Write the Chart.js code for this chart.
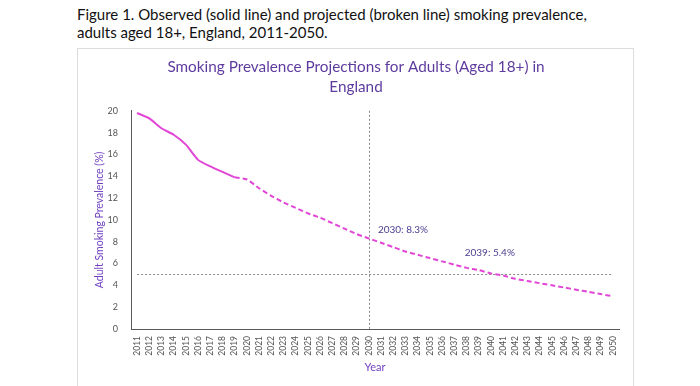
<!DOCTYPE html>
<html>
<head>
<meta charset="utf-8">
<script src="https://cdn.jsdelivr.net/npm/chart.js@4"></script>
<style>
    body { margin: 0; width: 700px; height: 386px; background: #fff; position: relative; overflow: hidden; font-family: Lato, "Open Sans", sans-serif; }
    #cap { position: absolute; left: 77px; top: 5px; font-size: 15px; line-height: 18px; color: #111; }
    #caixa { position: absolute; left: 77px; top: 48px; width: 555px; height: 345px; border: 1px solid #dcdcdc; }
    #grafFum { position: absolute; left: 78px; top: 48px; }
</style>
</head>
<body>
<div id="cap">Figure 1. Observed (solid line) and projected (broken line) smoking prevalence,<br>adults aged 18+, England, 2011-2050.</div>
<div id="caixa"></div>
<canvas id="grafFum" width="556" height="338"></canvas>
<script>
const anos = ['2011','2012','2013','2014','2015','2016','2017','2018','2019','2020',
    '2021','2022','2023','2024','2025','2026','2027','2028','2029','2030',
    '2031','2032','2033','2034','2035','2036','2037','2038','2039','2040',
    '2041','2042','2043','2044','2045','2046','2047','2048','2049','2050'];
// observado 2011-2019
const observado = [19.8, 19.3, 18.4, 17.8, 16.9, 15.5, 14.9, 14.4, 13.9];
// projectado 2019-2050
const projectado = [13.9, 13.7, 12.9, 12.2, 11.6, 11.1, 10.6, 10.2, 9.7, 9.2, 8.7, 8.3,
    7.9, 7.5, 7.1, 6.8, 6.5, 6.2, 5.9, 5.6, 5.4, 5.1, 4.9, 4.6, 4.4, 4.2,
    4.0, 3.8, 3.6, 3.4, 3.2, 3.0];
const metaAno = '2030';
const metaVal = 5;
const notas = [
    { ano: '2030', val: 8.3, txt: '2030: 8.3%' },
    { ano: '2039', val: 5.4, txt: '2039: 5.4%' }
];

const serieObs = anos.map(function(a, i) { return i < observado.length ? observado[i] : null; });
const serieProj = anos.map(function(a, i) {
    const k = i - (observado.length - 1);
    return k >= 0 ? projectado[k] : null;
});

const corLinha = '#e246d6';
const fonte = 'Lato, "Open Sans", sans-serif';

const linhasRef = {
    id: 'linhasRef',
    beforeDatasetsDraw: function(chart) {
        const c = chart.ctx, x = chart.scales.x, y = chart.scales.y, ca = chart.chartArea;
        c.save();
        c.strokeStyle = '#8a8a8a';
        c.lineWidth = 1;
        c.setLineDash([2, 2]);
        const yy = Math.round(y.getPixelForValue(metaVal)) + 0.5;
        c.beginPath();
        c.moveTo(x.getPixelForValue(0), yy);
        c.lineTo(x.getPixelForValue(anos.length - 1), yy);
        c.stroke();
        const xx = Math.round(x.getPixelForValue(anos.indexOf(metaAno))) + 0.5;
        c.beginPath();
        c.moveTo(xx, ca.top);
        c.lineTo(xx, ca.bottom);
        c.stroke();
        c.restore();
    },
    afterDatasetsDraw: function(chart) {
        const c = chart.ctx, x = chart.scales.x, y = chart.scales.y;
        c.save();
        c.fillStyle = '#4b3d8f';
        c.font = '10px ' + fonte;
        c.textBaseline = 'middle';
        notas.forEach(function(n, i) {
            const px = x.getPixelForValue(anos.indexOf(n.ano));
            const py = y.getPixelForValue(n.val);
            if (i === 0) c.fillText(n.txt, px + 9, py - 9);
            else c.fillText(n.txt, px - 14, py - 17);
        });
        c.restore();
    }
};

const ctx = document.getElementById('grafFum').getContext('2d');
new Chart(ctx, {
    type: 'line',
    data: {
        labels: anos,
        datasets: [{
            label: 'Observed',
            data: serieObs,
            borderColor: corLinha,
            borderWidth: 2,
            pointRadius: 0,
            tension: 0.2,
            spanGaps: false
        }, {
            label: 'Projected',
            data: serieProj,
            borderColor: corLinha,
            borderWidth: 2,
            borderDash: [5, 3],
            pointRadius: 0,
            tension: 0.2,
            spanGaps: false
        }]
    },
    options: {
        responsive: false,
        animation: false,
        layout: { padding: { left: 15, right: 15, top: 0, bottom: 8 } },
        plugins: {
            legend: { display: false },
            tooltip: { enabled: false },
            title: {
                display: true,
                text: ['Smoking Prevalence Projections for Adults (Aged 18+) in', 'England'],
                color: '#5e3c9f',
                font: { family: fonte, size: 15.3, weight: 'normal', lineHeight: 1.3 },
                padding: { top: 9, bottom: 14 }
            }
        },
        scales: {
            x: {
                offset: true,
                grid: { display: false, drawTicks: false },
                border: { color: '#595959', width: 1 },
                ticks: { color: '#555', font: { family: fonte, size: 8.5 }, minRotation: 90, maxRotation: 90, autoSkip: false, padding: 7 },
                title: { display: true, text: 'Year', color: '#7040c0', font: { family: fonte, size: 11 }, padding: { top: 4 } },
                afterFit: function(s) { s.height = 49; }
            },
            y: {
                min: 0,
                max: 20,
                grid: { display: false, drawTicks: false },
                border: { color: '#595959', width: 1 },
                ticks: { stepSize: 2, color: '#555', font: { family: fonte, size: 9 }, padding: 13 },
                title: { display: true, text: 'Adult Smoking Prevalence (%)', color: '#7040c0', font: { family: fonte, size: 10.5 }, padding: { top: 0, bottom: 4 } },
                afterFit: function(s) { s.width = 38; }
            }
        }
    },
    plugins: [linhasRef]
});
</script>
</body>
</html>
